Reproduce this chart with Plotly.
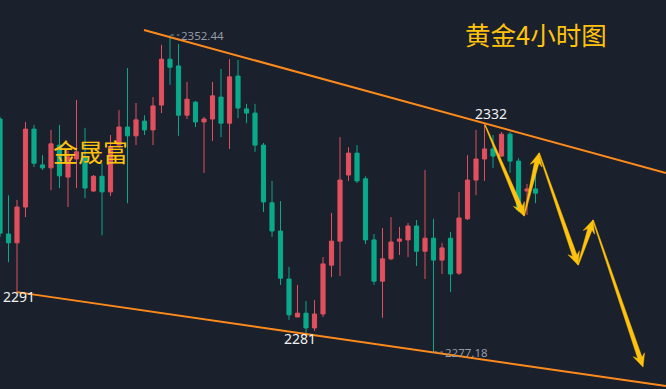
import plotly.graph_objects as go

# ---- data (4h candles, index-based) ----
idx = list(range(64))
opens = [2332.5, 2305.2, 2303.1, 2311.6, 2330.1, 2321.6, 2320.9, 2326.3, 2318.7, 2323.0,
         2323.5, 2315.4, 2318.9, 2315.2, 2326.3, 2330.6, 2328.5, 2332.0, 2329.9, 2335.8,
         2346.7, 2345.1, 2333.4, 2336.5, 2331.8, 2332.5, 2337.7, 2331.5, 2342.7, 2334.9,
         2333.9, 2326.3, 2312.6, 2305.9, 2294.5, 2285.5, 2286.4, 2282.9, 2286.2, 2297.8,
         2303.5, 2319.2, 2324.4, 2318.3, 2303.8, 2294.0, 2299.3, 2303.5, 2303.8, 2307.1,
         2301.1, 2304.2, 2299.0, 2304.2, 2295.9, 2308.8, 2318.0, 2323.0, 2325.4, 2323.7,
         2328.9, 2322.5, 2315.4, 2315.9]
highs = [2333.0, 2314.4, 2313.3, 2331.8, 2331.1, 2323.9, 2329.9, 2331.1, 2325.0, 2337.0,
         2330.4, 2319.2, 2322.0, 2328.7, 2334.6, 2344.6, 2336.3, 2333.4, 2337.7, 2350.1,
         2352.44, 2350.3, 2341.3, 2336.8, 2333.0, 2341.3, 2344.4, 2346.7, 2346.5, 2336.1,
         2336.1, 2326.8, 2317.8, 2313.0, 2297.4, 2293.1, 2289.3, 2289.5, 2299.7, 2310.2,
         2328.2, 2325.8, 2326.3, 2318.9, 2305.2, 2306.6, 2309.2, 2306.9, 2307.8, 2308.5,
         2320.4, 2308.8, 2303.1, 2305.7, 2315.2, 2323.9, 2329.9, 2331.5, 2328.7, 2329.4,
         2329.4, 2323.2, 2317.1, 2320.4]
lows = [2304.5, 2298.5, 2291.4, 2309.2, 2321.1, 2320.4, 2315.6, 2316.1, 2311.6, 2316.1,
        2313.7, 2315.2, 2304.9, 2314.2, 2325.6, 2312.5, 2326.3, 2328.7, 2326.3, 2333.9,
        2340.6, 2328.5, 2332.5, 2330.6, 2319.7, 2327.3, 2328.2, 2325.4, 2332.7, 2331.5,
        2324.7, 2310.4, 2304.5, 2293.1, 2284.8, 2285.5, 2281.7, 2282.2, 2285.5, 2295.0,
        2295.2, 2317.8, 2317.3, 2302.8, 2293.1, 2285.3, 2299.0, 2300.2, 2299.7, 2297.6,
        2294.5, 2277.18, 2295.7, 2291.4, 2295.5, 2308.5, 2314.4, 2317.8, 2320.9, 2323.5,
        2319.7, 2310.4, 2309.7, 2312.5]
closes = [2305.4, 2303.1, 2311.6, 2330.1, 2322.0, 2320.9, 2326.6, 2319.0, 2323.5, 2324.7,
          2316.1, 2318.9, 2315.2, 2325.8, 2330.6, 2328.5, 2332.3, 2329.9, 2335.6, 2346.7,
          2344.8, 2333.4, 2337.2, 2331.8, 2332.5, 2338.0, 2331.5, 2342.5, 2335.1, 2333.9,
          2326.3, 2312.8, 2305.9, 2294.7, 2286.0, 2286.4, 2282.9, 2286.2, 2298.1, 2303.5,
          2318.0, 2324.4, 2317.8, 2303.8, 2294.0, 2299.3, 2303.3, 2304.0, 2307.1, 2301.1,
          2304.2, 2299.0, 2301.9, 2295.7, 2309.0, 2318.0, 2323.0, 2325.4, 2323.7, 2328.9,
          2322.5, 2310.9, 2315.9, 2314.9]

# channel lines (index, price)
upper_x = [16.94, 78.35]
upper_y = [2353.63, 2319.68]
lower_x = [2.0, 78.35]
lower_y = [2291.4, 2269.11]

# key level labels: (index, price, text)
level_labels = [(2.2, 2290.4, "2291"), (35.3, 2280.5, "2281"), (57.8, 2333.8, "2332")]
extreme_labels = [(20, 2352.44, "2352.44"), (51, 2277.18, "2277.18")]

# projected path (index, price)
path_x = [57.06, 61.65, 63.41, 68.0, 69.76, 75.65]
path_y = [2331.07, 2309.47, 2324.43, 2297.83, 2308.52, 2273.6]

W, H = 666, 389
X0, X1 = 0.0, 78.35
Y0, Y1 = 2268.4, 2360.75
BG = "#1a202c"
GOLD = "#ffc20e"

fig = go.Figure()
fig.add_trace(go.Candlestick(
    x=idx, open=opens, high=highs, low=lows, close=closes,
    increasing=dict(line=dict(color="#e0505e", width=1), fillcolor="#e0505e"),
    decreasing=dict(line=dict(color="#0aa98a", width=1), fillcolor="#0aa98a"),
    whiskerwidth=0, showlegend=False, hoverinfo="skip"))

for xs, ys in [(upper_x, upper_y), (lower_x, lower_y)]:
    fig.add_trace(go.Scatter(x=xs, y=ys, mode="lines",
                             line=dict(color="#ff8a1c", width=2),
                             showlegend=False, hoverinfo="skip"))

shapes = []
annotations = []

for (xi, yi, t) in level_labels:
    annotations.append(dict(x=xi, y=yi, xref="x", yref="y", text=t, showarrow=False,
                            font=dict(family="Noto Sans", size=14, color="#f0f0f0")))

for (xi, yi, t) in extreme_labels:
    shapes.append(dict(type="line", xref="x", yref="y", x0=xi + 0.1, x1=xi + 1.1,
                       y0=yi, y1=yi, line=dict(color="#8d939e", width=1, dash="dot")))
    annotations.append(dict(x=xi + 1.1, y=yi, xref="x", yref="y", text=t, showarrow=False,
                            xanchor="left", yanchor="middle",
                            font=dict(family="Noto Sans", size=11.5, color="#959ba6")))

# tapered arrows drawn as polygons in pixel space
sx = W / (X1 - X0)
sy = H / (Y1 - Y0)
def to_px(xv, yv):
    return ((xv - X0) * sx, (Y1 - yv) * sy)
def to_data(px, py):
    return (X0 + px / sx, Y1 - py / sy)

def arrow_path(a, b, w0, w1, head_len, head_w):
    ax_, ay_ = to_px(*a)
    bx_, by_ = to_px(*b)
    dx, dy = bx_ - ax_, by_ - ay_
    L = (dx * dx + dy * dy) ** 0.5
    ux, uy = dx / L, dy / L
    nx, ny = -uy, ux
    cx, cy = bx_ - ux * head_len, by_ - uy * head_len
    nx2, ny2 = bx_ - ux * head_len * 0.75, by_ - uy * head_len * 0.75
    pts = [
        (ax_ + nx * w0 / 2, ay_ + ny * w0 / 2),
        (nx2 + nx * w1 / 2, ny2 + ny * w1 / 2),
        (cx + nx * head_w / 2, cy + ny * head_w / 2),
        (bx_, by_),
        (cx - nx * head_w / 2, cy - ny * head_w / 2),
        (nx2 - nx * w1 / 2, ny2 - ny * w1 / 2),
        (ax_ - nx * w0 / 2, ay_ - ny * w0 / 2),
    ]
    d = []
    for k, (px, py) in enumerate(pts):
        xv, yv = to_data(px, py)
        d.append(("M" if k == 0 else "L") + f"{xv:.4f},{yv:.4f}")
    return " ".join(d) + " Z"

for k in range(len(path_x) - 1):
    a = (path_x[k], path_y[k])
    b = (path_x[k + 1], path_y[k + 1])
    shapes.append(dict(type="path", xref="x", yref="y",
                       path=arrow_path(a, b, 0.8, 4.5, 13, 12),
                       fillcolor=GOLD, line=dict(color=GOLD, width=0.5)))

annotations.append(dict(x=90 / W, y=1 - 151 / H, xref="paper", yref="paper", text="金晟富",
                        showarrow=False, xanchor="center", yanchor="middle",
                        font=dict(family="Noto Sans CJK SC", size=25, color=GOLD)))
annotations.append(dict(x=536 / W, y=1 - 34 / H, xref="paper", yref="paper", text="黄金4小时图",
                        showarrow=False, xanchor="center", yanchor="middle",
                        font=dict(family="Noto Sans CJK SC", size=25.5, color=GOLD)))

fig.update_layout(
    width=W, height=H, margin=dict(l=0, r=0, t=0, b=0),
    paper_bgcolor=BG, plot_bgcolor=BG,
    xaxis=dict(range=[X0, X1], visible=False, rangeslider=dict(visible=False), fixedrange=True),
    yaxis=dict(range=[Y0, Y1], visible=False, fixedrange=True),
    shapes=shapes, annotations=annotations, showlegend=False,
)
fig.write_html("out.html", config={"displayModeBar": False, "staticPlot": True},
               post_script="document.body.style.margin='0';document.body.style.background='" + BG + "';")
